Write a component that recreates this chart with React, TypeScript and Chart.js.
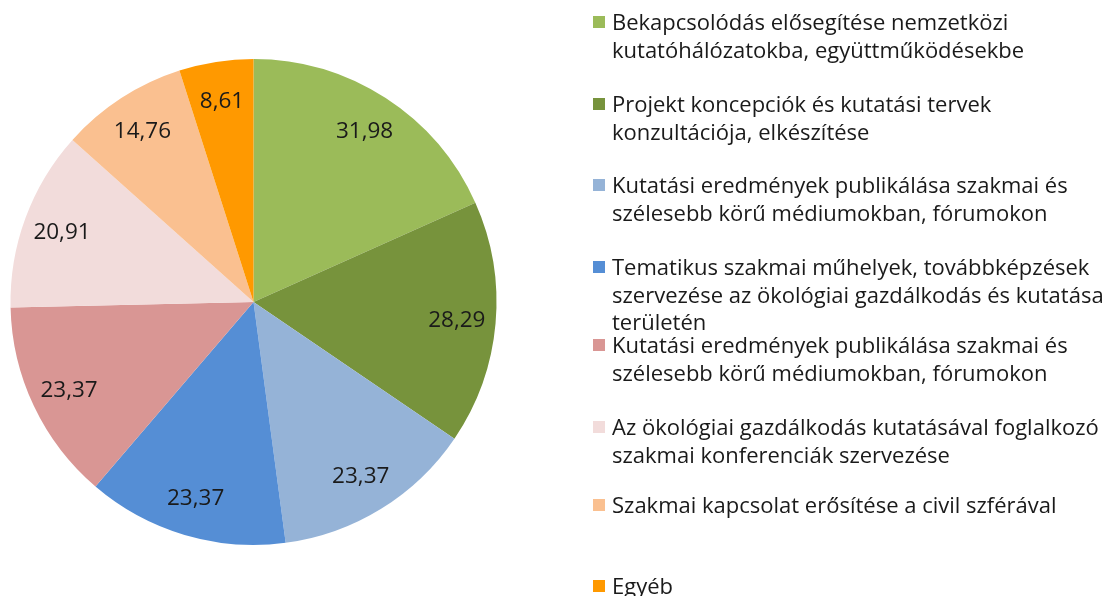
import React, { useEffect, useRef } from "react";
import { Chart, registerables } from "chart.js";

Chart.register(...registerables);

const categories: string[] = [
  "Bekapcsolódás elősegítése nemzetközi kutatóhálózatokba, együttműködésekbe",
  "Projekt koncepciók és kutatási tervek konzultációja, elkészítése",
  "Kutatási eredmények publikálása szakmai és szélesebb körű médiumokban, fórumokon",
  "Tematikus szakmai műhelyek, továbbképzések szervezése az ökológiai gazdálkodás és kutatása területén",
  "Kutatási eredmények publikálása szakmai és szélesebb körű médiumokban, fórumokon",
  "Az ökológiai gazdálkodás kutatásával foglalkozó szakmai konferenciák szervezése",
  "Szakmai kapcsolat erősítése a civil szférával",
  "Egyéb",
];

const legendLines: string[][] = [
  ["Bekapcsolódás elősegítése nemzetközi", "kutatóhálózatokba, együttműködésekbe"],
  ["Projekt koncepciók és kutatási tervek", "konzultációja, elkészítése"],
  ["Kutatási eredmények publikálása szakmai és", "szélesebb körű médiumokban, fórumokon"],
  ["Tematikus szakmai műhelyek, továbbképzések", "szervezése az ökológiai gazdálkodás és kutatása", "területén"],
  ["Kutatási eredmények publikálása szakmai és", "szélesebb körű médiumokban, fórumokon"],
  ["Az ökológiai gazdálkodás kutatásával foglalkozó", "szakmai konferenciák szervezése"],
  ["Szakmai kapcsolat erősítése a civil szférával"],
  ["Egyéb"],
];

const values: number[] = [31.98, 28.29, 23.37, 23.37, 23.37, 20.91, 14.76, 8.61];

const colors: string[] = [
  "#9BBB59",
  "#77933C",
  "#95B3D7",
  "#558ED5",
  "#D99694",
  "#F2DCDB",
  "#FAC090",
  "#FF9900",
];

const FONT = "'Open Sans', 'Liberation Sans', sans-serif";

const labelPlugin = {
  id: "sliceLabels",
  afterDatasetsDraw(chart: any) {
    const ctx = chart.ctx;
    const meta = chart.getDatasetMeta(0);
    ctx.save();
    ctx.font = `22.5px ${FONT}`;
    ctx.fillStyle = "#1a1a1a";
    ctx.textAlign = "center";
    ctx.textBaseline = "middle";
    meta.data.forEach((arc: any, i: number) => {
      const mid = (arc.startAngle + arc.endAngle) / 2;
      const r = arc.outerRadius * 0.84;
      const x = arc.x + Math.cos(mid) * r;
      const y = arc.y + Math.sin(mid) * r;
      ctx.fillText(values[i].toFixed(2).replace(".", ","), x, y + 1);
    });
    ctx.restore();
  },
};

export default function App() {
  const canvasRef = useRef<HTMLCanvasElement | null>(null);

  useEffect(() => {
    if (!canvasRef.current) return;
    const chart = new Chart(canvasRef.current, {
      type: "pie",
      data: {
        labels: categories,
        datasets: [
          {
            data: values,
            backgroundColor: colors,
            borderWidth: 0,
          },
        ],
      },
      options: {
        animation: false,
        responsive: false,
        maintainAspectRatio: false,
        layout: { padding: { left: 10, top: 59, right: 611, bottom: 51 } },
        plugins: {
          legend: { display: false },
          tooltip: { enabled: false },
        },
      },
      plugins: [labelPlugin],
    });
    return () => chart.destroy();
  }, []);

  const slotTops = [22, 104, 185, 267, 345, 427, 505, 586];

  return (
    <div style={{ position: "fixed", left: 0, top: 0, width: 1108, height: 596, background: "#fff", overflow: "hidden" }}>
      <canvas ref={canvasRef} width={1108} height={596} style={{ position: "absolute", left: 0, top: 0 }} />
      {legendLines.map((lines, i) => (
        <div key={i}>
          <div
            style={{
              position: "absolute",
              left: 593,
              top: slotTops[i] - 6,
              width: 12,
              height: 12,
              background: colors[i],
            }}
          />
          {lines.map((ln, j) => (
            <div
              key={j}
              style={{
                position: "absolute",
                left: 612,
                top: slotTops[i] + j * 27.5 - 16,
                height: 30,
                lineHeight: "30px",
                fontFamily: FONT,
                fontSize: 22,
                color: "#1a1a1a",
                whiteSpace: "nowrap",
              }}
            >
              {ln}
            </div>
          ))}
        </div>
      ))}
    </div>
  );
}
